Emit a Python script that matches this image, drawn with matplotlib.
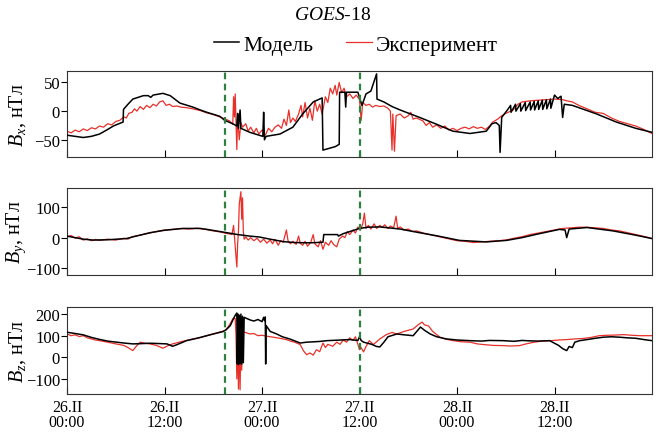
import matplotlib
matplotlib.use("Agg")
import matplotlib.pyplot as plt

plt.rcParams['font.family'] = ['Liberation Serif', 'DejaVu Serif']
plt.rcParams['mathtext.fontset'] = 'custom'
plt.rcParams['mathtext.rm'] = 'Liberation Serif'
plt.rcParams['mathtext.it'] = 'Liberation Serif:italic'

# hours since 26.II 00:00
bx_mod_t = [0, 1, 2, 3, 4, 5, 5.7, 6.9, 6.95, 7.5, 8.1, 9.4, 10, 10.3, 10.6, 11.8, 12.7, 13.9, 15.5, 16.4,
            17.2, 18.8, 19.4, 20.4, 20.9, 21.0, 21.1, 21.3, 21.4, 22.5, 24.1, 24.2, 24.3, 24.5, 26.2, 27.8,
            29.0, 30.3, 31.4, 31.5, 32.0, 33.0, 33.5, 33.55, 34.2, 34.3, 34.4, 35.8, 36.3, 36.8, 37.4, 38.1,
            38.15, 39.0, 40.0, 41.0, 43.4, 45.5, 47.5, 49.6, 51.6, 52.3, 52.8, 53.2, 53.3, 53.5, 54.2,
            54.6, 54.65, 55.2, 55.25, 55.8, 55.85, 56.4, 56.45, 57.0, 57.05, 57.5, 57.55, 58.0, 58.05,
            58.5, 58.55, 59.0, 59.05, 59.5, 59.55, 60.0, 60.4, 60.8, 61.0, 61.2, 62.2, 65.2, 67.6, 70, 72]
bx_mod = [-42, -44, -46, -44, -40, -32, -26, -19, 3, 12, 21, 27, 27, 24, 28, 31, 27, 14, 7, 2,
          -2, -9, -16, -22, -26, -4, -30, 2, -30, -37, -44, -2, -50, -44, -40, -28,
          -5, 16, 23, -68, -66, -62, -58, 33, 33, 7, 33, 33, 10, 30, 35, 65,
          21, 16, 8, 2, -11, -23, -35, -39, -35, -22, -20, -25, -72, -11, 2,
          10, -2, 12, 0, 13, 0, 15, 1, 16, 2, 17, 2, 18, 3,
          19, 3, 20, 4, 21, 5, 28, 22, 26, -11, 12, 10, -5, -19, -30, -37]

bx_exp_t = [0, 0.5, 1, 1.5, 2, 2.5, 3, 3.5, 4, 4.5, 5, 5.5, 6, 6.5, 7, 7.3, 7.6, 8, 8.3, 8.6, 9, 9.4, 9.8,
            10.2, 10.6, 11, 11.4, 11.8, 12.2, 12.6, 13, 13.5, 14, 14.7, 15.5, 16.4, 17.2, 18, 18.8, 19.5,
            20.0, 20.4, 20.5, 20.6, 20.7, 20.8, 20.9, 21.0, 21.1, 21.2, 21.4, 21.6, 22, 22.3, 22.6, 23,
            23.3, 23.6, 24, 24.4, 24.8, 25.2, 25.6, 26, 26.4, 26.7, 27, 27.3, 27.5, 27.8, 28.1, 28.5,
            28.8, 29, 29.3, 29.6, 29.9, 30.2, 30.5, 30.8, 31.1, 31.4, 31.8, 32.1, 32.4, 32.7, 33, 33.2,
            33.5, 33.8, 34.1, 34.4, 34.8, 35.2, 35.6, 36, 36.2, 36.4, 36.8, 37.2, 37.6, 38, 38.5, 39,
            39.5, 39.8, 40.0, 40.1, 40.3, 40.5, 41, 41.5, 42, 42.3, 42.6, 43, 43.8, 44.2, 44.6, 45,
            45.5, 46, 46.5, 47, 47.5, 48, 48.5, 49, 49.5, 50, 50.5, 51, 51.5, 52, 52.4, 53, 53.5, 54,
            54.9, 55.5, 56, 57, 58, 59, 60, 61, 61.5, 62.2, 63, 64, 65, 66, 67, 68, 69, 70, 71, 72]
bx_exp = [-35, -38, -33, -36, -31, -34, -29, -31, -26, -28, -22, -24, -18, -16, -10, -12, -4, -2, 4, 0, 8, 3, 10,
          6, 12, 9, 16, 18, 10, 12, 8, 9, 7, 6, 4, 1, -3, -6, -10, -14,
          -17, -23, 25, -10, 30, -20, -67, -5, -30, -50, -20, -28, -22, -35, -28, -38,
          -30, -40, -33, -42, -30, -36, -28, -24, -30, -14, -25, 2, -20, -12, -18, -5,
          10, -10, 15, -12, 5, -16, 18, 0, 12, -5, 25, 15, 40, 30, 45, 28,
          50, 32, 40, 25, 30, 22, 28, 20, -16, 15, 10, 12, 7, 10, 8, 9,
          5, 0, -68, -5, -70, -8, -5, -12, -8, -2, -14, -12, -17, -25, -20, -28,
          -24, -30, -26, -33, -30, -34, -30, -28, -31, -27, -30, -28, -32, -26, -19, -14, -8, -4,
          2, 12, 16, 18, 19, 20, 21, 20, 18, 16, 10, 4, -2, -4, -12, -18, -22, -26, -32, -39]

by_mod_t = [0, 1, 2, 3.2, 5, 7.3, 8.5, 10.2, 12, 14.3, 16.4, 17.2, 19.7, 21, 22.5, 23.7, 24.6, 26.6, 28,
            29.9, 31.5, 31.6, 33.3, 33.4, 34, 36, 37, 38.5, 41, 43.4, 45.5, 48.3, 51.6, 54.1, 56, 57.8,
            60.6, 61.3, 61.5, 61.8, 64, 67.2, 70, 72]
by_mod = [5, 0, -5, -8, -7, -3, 5, 16, 24, 30, 30, 27, 16, 10, 5, 2, -3, -13, -16,
          -17, -15, 10, 10, 5, 13, 30, 34, 35, 28, 16, 6, -9, -14, -9, 0, 11,
          27, 25, 0, 28, 33, 22, 8, -3]

by_exp_t = [0, 0.5, 1, 1.5, 2, 2.5, 3, 3.5, 4, 5, 6, 7, 7.5, 8, 9, 10, 11, 12, 13, 14, 15, 16, 17, 18, 19,
            19.5, 20, 20.3, 20.5, 20.7, 20.9, 21.0, 21.1, 21.2, 21.4, 21.5, 21.6, 21.7, 21.8, 22, 22.3,
            22.6, 23, 23.4, 23.8, 24.2, 24.6, 25, 25.3, 25.6, 26, 26.3, 26.6, 27, 27.2, 27.5, 27.8, 28.2,
            28.5, 28.7, 29, 29.3, 29.6, 30, 30.3, 30.5, 30.9, 31.2, 31.5, 31.8, 32.2, 32.5, 32.8, 33.2,
            33.5, 33.9, 34.2, 34.5, 34.8, 35.2, 35.5, 35.8, 36.1, 36.4, 36.6, 36.8, 37.1, 37.4, 37.8,
            38.1, 38.5, 38.8, 39.1, 39.5, 39.8, 40.2, 40.5, 40.7, 41, 41.5, 42, 42.5, 43, 44, 45, 46,
            47, 48, 49, 50, 51, 52, 53, 54, 55, 56, 57, 58, 59, 60, 61, 62, 63, 64, 65, 66, 67, 68, 69,
            70, 71, 72]
by_exp = [2, 7, -2, 3, -8, -4, -10, -6, -9, -5, -8, -2, -5, 3, 8, 14, 20, 25, 27, 30, 28, 31, 27, 22, 18,
          14, 12, 10, 40, -30, -96, -20, 20, 110, 150, 60, 130, 20, -5, 2, -8,
          0, -10, -2, -15, -5, -18, -8, -20, -6, -25, -10, -15, 25, -10, -20, -12, -22,
          5, -18, -25, -12, -28, -15, 10, -20, -30, -10, -38, -15, -25, -10, -22, -30,
          -5, 5, 0, 20, 10, 25, 15, 35, 25, 45, 80, 30, 40, 28, 45,
          30, 40, 33, 42, 30, 38, 32, 70, 30, 35, 25, 28, 20, 22, 14, 8, 2,
          -4, -10, -12, -16, -14, -12, -10, -8, -2, 3, 10, 15, 20, 25, 30, 32, 34, 34, 32, 30, 25, 22, 16,
          10, 4, -3]

bz_mod_t = [0, 1, 2, 3, 4.1, 5, 6.1, 7, 8.1, 9, 10.2, 11, 12.3, 13, 13.5, 14.7, 16, 17.2, 18, 19.2, 19.6,
            20.1, 20.5, 20.7, 20.9, 20.95, 21.05, 21.1, 21.2, 21.3, 21.4, 21.5, 21.6, 21.7, 21.8, 22.1,
            22.6, 23, 23.5, 24, 24.2, 24.3, 24.4, 24.45, 24.5, 25, 25.8, 26.5, 27.4, 28.7, 29.5, 31, 32,
            34.8, 35.8, 36, 36.2, 36.5, 37.5, 38.1, 38.5, 39, 39.5, 40.6, 41.5, 42.6, 43.5, 44, 44.7,
            45.5, 46.7, 48, 49.6, 51, 52, 53.7, 55, 56, 57, 58, 59.4, 60, 60.5, 61, 61.5, 61.8, 62.2,
            62.5, 63.1, 64, 65, 66, 67, 68, 69, 70, 71, 72]
bz_mod = [116, 110, 104, 92, 82, 75, 70, 66, 62, 63, 65, 64, 62, 51, 58, 77, 88, 100, 108, 119, 128,
          147, 180, 194, 205, -30, 200, -34, 195, -30, 200, -32, 190, -25, 185, 180,
          172, 168, 175, 165, 185, 170, 187, -31, 147, 120, 108, 95, 85, 66, 70, 73, 77,
          82, 78, 95, 78, 70, 60, 50, 48, 70, 95, 108, 104, 100, 140, 125, 108,
          95, 85, 80, 77, 75, 78, 77, 74, 78, 76, 75, 77, 65, 55, 40, 31, 50, 45,
          70, 77, 82, 88, 93, 95, 93, 90, 88, 82, 77]

bz_exp_t = [0, 0.5, 1, 1.5, 2, 2.5, 3, 3.5, 4, 5, 6, 7, 7.5, 8.1, 8.5, 9, 9.5, 10.2, 11, 11.8, 12.5, 13,
            14, 15.5, 16.5, 17, 18, 19, 19.5, 20, 20.4, 20.7, 20.8, 20.9, 21.0, 21.1, 21.2, 21.3, 21.4,
            21.5, 21.6, 22.1, 22.5, 23, 23.5, 24, 24.5, 25.4, 26.2, 27, 27.5, 28, 28.7, 29.1, 29.5, 29.9,
            30.3, 30.7, 31.1, 31.5, 31.8, 32.1, 32.7, 33.2, 33.6, 34, 34.4, 34.8, 35.2, 35.5, 35.8, 36,
            36.2, 36.5, 36.8, 37.2, 37.7, 38.5, 39.3, 40, 40.6, 41.5, 42.6, 43.2, 43.7, 44, 44.5, 45,
            45.9, 46.5, 47.5, 48.5, 49.6, 50.5, 51.5, 52.5, 53.7, 54.5, 55.7, 56.5, 57.5, 58.5, 59.5,
            60.5, 61.5, 62.5, 63.5, 64.5, 65.5, 66.5, 67.5, 68.5, 69.5, 70.5, 71.5, 72]
bz_exp = [108, 100, 104, 96, 100, 90, 85, 80, 77, 70, 62, 55, 45, 31, 50, 70, 66, 62, 55, 42, 55, 62,
          72, 85, 92, 98, 108, 119, 125, 150, 178, 180, 100, -100, 120, -147, 140, -151, 100,
          -60, 120, 113, 108, 110, 100, 102, 98, 93, 88, 82, 75, 70, 59, 30, 12, 20,
          10, 35, 26, 66, 45, 60, 51, 70, 60, 80, 70, 90, 78, 95, 60, 35,
          45, 25, 50, 77, 59, 85, 105, 115, 108, 120, 131, 150, 163, 150, 145, 120,
          93, 85, 77, 72, 70, 62, 58, 55, 54, 52, 54, 62, 70, 75, 77,
          80, 82, 85, 87, 92, 100, 102, 103, 105, 102, 100, 100, 100]

event_t = [19.5, 36.1]
tick_t = [0, 12, 24, 36, 48, 60]
tick_lab = ['26.II\n00:00', '26.II\n12:00', '27.II\n00:00', '27.II\n12:00', '28.II\n00:00', '28.II\n12:00']

panels = [
    (bx_mod_t, bx_mod, bx_exp_t, bx_exp, (-80, 70), [-50, 0, 50], r'$B_x$, нТл'),
    (by_mod_t, by_mod, by_exp_t, by_exp, (-122, 162), [-100, 0, 100], r'$B_y$, нТл'),
    (bz_mod_t, bz_mod, bz_exp_t, bz_exp, (-170, 233), [-100, 0, 100, 200], r'$B_z$, нТл'),
]
boxes = [[0.1017, 0.6368, 0.8877, 0.1977],
         [0.1017, 0.3655, 0.8877, 0.2000],
         [0.1017, 0.0920, 0.8877, 0.2000]]

fig = plt.figure(figsize=(6.59, 4.35), dpi=100)
red = '#e8302a'
for i, (mt, mv, et, ev, yl, yt, lab) in enumerate(panels):
    ax = fig.add_axes(boxes[i])
    ax.plot(et, ev, color=red, lw=0.9, zorder=2)
    ax.plot(mt, mv, color='black', lw=1.1, zorder=3)
    for t in event_t:
        ax.axvline(t, color='#2e8040', ls=(0, (3, 2)), lw=1.6, zorder=4)
    ax.set_xlim(0, 72)
    ax.set_ylim(*yl)
    ax.set_yticks(yt)
    ax.set_xticks(tick_t)
    ax.tick_params(axis='x', direction='in', length=5, labelsize=11.5)
    ax.tick_params(axis='y', direction='out', length=4, labelsize=12, pad=1)
    for s in ax.spines.values():
        s.set_color('#333333')
    if i < 2:
        ax.set_xticklabels([])
    else:
        ax.set_xticklabels(tick_lab, linespacing=0.95)
    ax.set_ylabel(lab, fontsize=14.5)
    ax.yaxis.set_label_coords(-0.066, 0.5)
    if i == 0:
        handles = ax.get_lines()[:2]

fig.text(0.505, 0.965, r'$GOES$-18', ha='center', va='center', fontsize=14)
fig.legend([handles[1], handles[0]], ['Модель', 'Эксперимент'], loc='center',
           bbox_to_anchor=(0.54, 0.895), ncol=2, frameon=False, fontsize=15.5,
           handlelength=1.2, handletextpad=0.2, columnspacing=1.5)

fig.savefig('out.png', dpi=100)
